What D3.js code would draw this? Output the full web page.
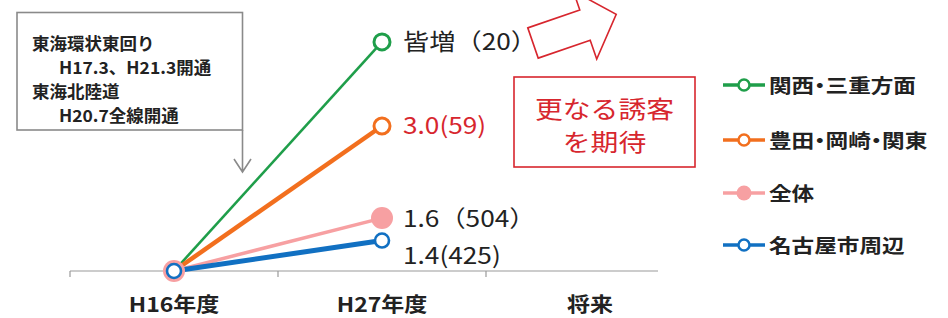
<!DOCTYPE html>
<html>
<head>
<meta charset="utf-8">
<script src="https://cdn.jsdelivr.net/npm/d3@7"></script>
<style>
  body { margin: 0; background: #fff; }
  svg { display: block; font-family: "Noto Sans CJK JP", "Noto Sans", sans-serif; }
  .legend text { font-feature-settings: "halt"; }
</style>
</head>
<body>
<div id="chart"></div>
<script>
// Index of visitors (H16 = 1.0), by origin area

var categories = ["H16年度", "H27年度", "将来"];
var seriesNames = ["関西・三重方面", "豊田・岡崎・関東", "全体", "名古屋市周辺"];
var kansaiValues = [1.0, 4.16];
var toyotaValues = [1.0, 3.0];
var zentaiValues = [1.0, 1.73];
var nagoyaValues = [1.0, 1.42];
var valueLabels = ["皆増（20）", "3.0(59)", "1.6（504）", "1.4(425)"];
var noteLines = ["東海環状東回り", "H17.3、H21.3開通", "東海北陸道", "H20.7全線開通"];
var expectLines = ["更なる誘客", "を期待"];

var width = 948, height = 318;
var baseY = 271;

var styles = [
    { color: "#1f9e4a", lw: 2.6, r: 8, sw: 3, filled: false, labelColor: "#222" },
    { color: "#f26f1e", lw: 4.5, r: 8, sw: 3, filled: false, labelColor: "#d7262e" },
    { color: "#f7a0a2", lw: 3.5, r: 11, sw: 0, filled: true, labelColor: "#222" },
    { color: "#1170c2", lw: 5, r: 7, sw: 2.6, filled: false, labelColor: "#222" }
];

var allValues = [kansaiValues, toyotaValues, zentaiValues, nagoyaValues];

var svg = d3.select("#chart").append("svg")
    .attr("width", width)
    .attr("height", height);

var xScale = d3.scaleBand()
    .domain(categories)
    .range([70, 694]);

var yScale = d3.scaleLinear()
    .domain([1, 4.5])
    .range([baseY, 17.25]);

function cx(i) { return xScale(categories[i]) + xScale.bandwidth() / 2; }

// text helper, glyphs in the picture are a bit wide
function label(g, x, y, txt, size, opts) {
    opts = opts || {};
    return g.append("text")
        .attr("transform", "translate(" + x + "," + y + ") scale(" + (opts.sx || 1.12) + ",1)")
        .attr("text-anchor", opts.anchor || "start")
        .style("font-size", size + "px")
        .style("font-weight", opts.weight || "normal")
        .style("fill", opts.color || "#222")
        .text(txt);
}

// axis line and ticks at band boundaries
svg.append("line")
    .attr("x1", 70).attr("x2", 658)
    .attr("y1", baseY).attr("y2", baseY)
    .attr("stroke", "#9a9a9a").attr("stroke-width", 1.2);

svg.selectAll(".tick")
    .data(categories)
  .enter().append("line")
    .attr("class", "tick")
    .attr("x1", function(d) { return xScale(d); })
    .attr("x2", function(d) { return xScale(d); })
    .attr("y1", baseY).attr("y2", baseY + 6)
    .attr("stroke", "#9a9a9a").attr("stroke-width", 1.2);

categories.forEach(function(c) {
    label(svg, xScale(c) + xScale.bandwidth() / 2, 312, c, 20, { anchor: "middle", weight: "bold", sx: 1.15 });
});

// lines
var line = d3.line()
    .x(function(d, i) { return cx(i); })
    .y(function(d) { return yScale(d); });

allValues.forEach(function(vals, k) {
    svg.append("path")
        .attr("d", line(vals))
        .attr("fill", "none")
        .attr("stroke", styles[k].color)
        .attr("stroke-width", styles[k].lw);
});

// markers
allValues.forEach(function(vals, k) {
    var s = styles[k];
    svg.selectAll(".m" + k)
        .data(vals)
      .enter().append("circle")
        .attr("cx", function(d, i) { return cx(i); })
        .attr("cy", function(d) { return yScale(d); })
        .attr("r", s.r)
        .attr("fill", s.filled ? s.color : "#fff")
        .attr("stroke", s.filled ? "none" : s.color)
        .attr("stroke-width", s.sw);
});

// value labels at H27
var labelDy = [8, 8, 9, 23];
allValues.forEach(function(vals, k) {
    label(svg, cx(1) + 21, yScale(vals[1]) + labelDy[k], valueLabels[k], 23, { color: styles[k].labelColor, sx: 1.14 });
});

// note box with down arrow
svg.append("rect")
    .attr("x", 17).attr("y", 12.5)
    .attr("width", 225.5).attr("height", 117.5)
    .attr("fill", "#fff")
    .attr("stroke", "#8a8a8a").attr("stroke-width", 1.6);
svg.append("path")
    .attr("d", "M242.5,130 V172 M234,159 L242.5,172 L251,159")
    .attr("fill", "none")
    .attr("stroke", "#8a8a8a").attr("stroke-width", 1.6);

var noteX = [32, 59, 32, 59];
var noteY = [50, 74, 98, 122];
noteLines.forEach(function(t, i) {
    label(svg, noteX[i], noteY[i], t, 16.5, { weight: "bold", sx: 1.06 });
});

// block arrow toward the future
var ag = svg.append("g")
    .attr("transform", "translate(533,43) rotate(-19)");
ag.append("path")
    .attr("d", "M0,-16 L55,-16 L55,-36 L88,0 L55,36 L55,16 L0,16 Z")
    .attr("fill", "#fff")
    .attr("stroke", "#d7262e").attr("stroke-width", 1.6)
    .attr("stroke-linejoin", "miter");

// expectation box
svg.append("rect")
    .attr("x", 514).attr("y", 77)
    .attr("width", 181).attr("height", 90)
    .attr("fill", "#fff")
    .attr("stroke", "#d7262e").attr("stroke-width", 1.6);
label(svg, 604.5, 118, expectLines[0], 24, { anchor: "middle", color: "#d7262e", sx: 1.16 });
label(svg, 604.5, 151, expectLines[1], 24, { anchor: "middle", color: "#d7262e", sx: 1.16 });

// legend
var legendY = [85, 140, 193, 245];
var lg = svg.selectAll(".legend")
    .data(seriesNames)
  .enter().append("g")
    .attr("class", "legend")
    .attr("transform", function(d, i) { return "translate(723," + legendY[i] + ")"; });

lg.append("line")
    .attr("x1", 0).attr("x2", 42)
    .attr("stroke", function(d, i) { return styles[i].color; })
    .attr("stroke-width", 3.5);
lg.append("circle")
    .attr("cx", 21)
    .attr("r", function(d, i) { return styles[i].filled ? 7.5 : 5.5; })
    .attr("fill", function(d, i) { return styles[i].filled ? styles[i].color : "#fff"; })
    .attr("stroke", function(d, i) { return styles[i].filled ? "none" : styles[i].color; })
    .attr("stroke-width", 2.5);
lg.each(function(d) {
    label(d3.select(this), 46, 7.5, d, 19.5, { weight: "bold", sx: 1.16 });
});
</script>
</body>
</html>
